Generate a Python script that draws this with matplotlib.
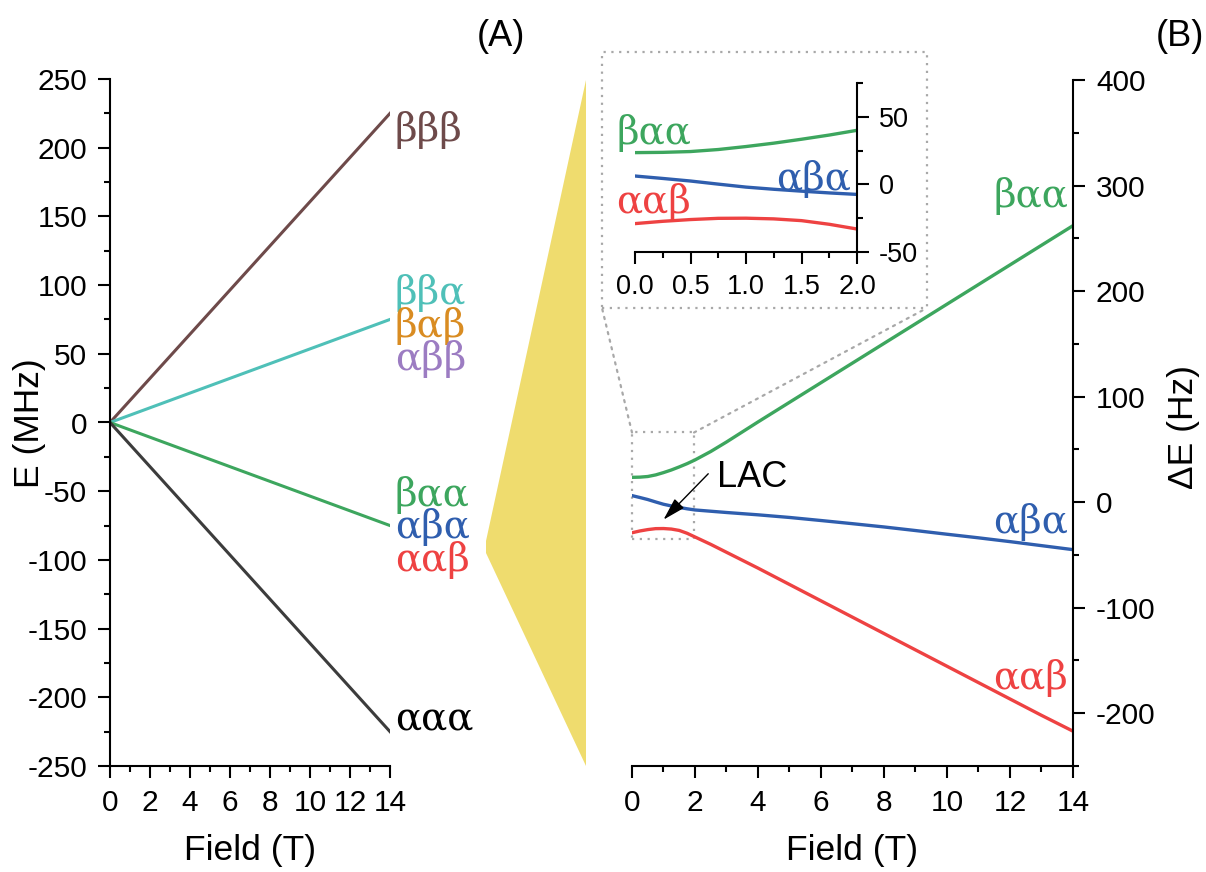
import matplotlib
matplotlib.use('Agg')
from matplotlib import pyplot as plt
from matplotlib.patches import Polygon, Rectangle, ConnectionPatch
from matplotlib.ticker import MultipleLocator, FormatStrFormatter

plt.rcParams['font.family'] = ['Liberation Sans', 'DejaVu Sans']
plt.rcParams['axes.unicode_minus'] = False

# (A) Zeeman levels, MHz
fieldA = [0, 14]
E_bbb = [0, 225]
E_bba = [0, 75]
E_baa = [0, -75]
E_aaa = [0, -225]
labelsA = ['βββ', 'ββα', 'βαβ', 'αββ', 'βαα', 'αβα', 'ααβ', 'ααα']

# (B) energy differences, Hz
fieldB = [0, 0.25, 0.5, 0.75, 1.0, 1.25, 1.5, 1.75, 2.0, 2.5,
          3, 4, 5, 6, 7, 8, 9, 10, 11, 12, 13, 14]
dE_baa = [23.5, 23.7, 24.3, 25.8, 28, 30.5, 33.4, 36.5, 40, 48,
          57, 76, 94.6, 113.2, 131.8, 150.4, 169, 187.6, 206.2, 224.8, 243.4, 262]
dE_aba = [6.2, 4.4, 2.5, 0.2, -2, -3.6, -5, -6.3, -7.4, -8.6,
          -9.8, -12, -14.5, -17.4, -20.4, -23.5, -26.9, -30.4, -33.8, -37.4, -41.2, -45]
dE_aab = [-29, -27.3, -26, -25.1, -25, -25.5, -26.8, -29.5, -33, -40,
          -47.5, -62.5, -78, -93.5, -109, -124.5, -140, -155.5, -171, -186.5, -202, -217]

brown = '#6E4A4A'
cyan = '#4FC0B8'
orange = '#D98C22'
purple = '#9C7CC2'
green = '#3DA65E'
blue = '#2F5EAE'
red = '#EE4242'
dark = '#3C3C3C'

W, H = 1206, 872
fig = plt.figure(figsize=(W / 100, H / 100), dpi=100)
greek = dict(fontsize=28, family='DejaVu Serif', va='center')

def fx(px):
    return px / W

def fy(py):
    return 1 - py / H

def style(ax, side, size=21.5, pad=8):
    for s in ['top', 'right', 'left', 'bottom']:
        ax.spines[s].set_linewidth(1.5)
    ax.spines['top'].set_visible(False)
    ax.spines['right' if side == 'left' else 'left'].set_visible(False)
    ax.tick_params(which='both', direction='out', width=1.5, labelsize=size, pad=pad)
    ax.tick_params(which='major', length=8.5)
    ax.tick_params(which='minor', length=4.3)
    if side == 'right':
        ax.yaxis.tick_right()

# yellow wedge
fig.add_artist(Polygon([(fx(586), fy(80)), (fx(486), fy(541)), (fx(486), fy(553)),
                        (fx(586), fy(766))], closed=True, transform=fig.transFigure,
                       facecolor='#EFDC6E', edgecolor='none', zorder=0))

# ---- panel A
axA = fig.add_axes([fx(110), fy(766), fx(280), (766 - 79) / H])
style(axA, 'left')
axA.plot(fieldA, E_bbb, color=brown, lw=2.2)
axA.plot(fieldA, E_bba, color=cyan, lw=2.2)
axA.plot(fieldA, E_baa, color=green, lw=2.2)
axA.plot(fieldA, E_aaa, color=dark, lw=2.2)
axA.set_xlim(0, 14)
axA.set_ylim(-250, 250)
axA.xaxis.set_major_locator(MultipleLocator(2))
axA.xaxis.set_minor_locator(MultipleLocator(1))
axA.yaxis.set_major_locator(MultipleLocator(50))
axA.yaxis.set_minor_locator(MultipleLocator(25))
axA.set_xlabel('Field (T)', fontsize=25.5, labelpad=12)
labA_y = [213, 94, 70, 46, -53, -76, -100, -216]
labA_c = [brown, cyan, orange, purple, green, blue, red, 'black']
for lab, y, c in zip(labelsA, labA_y, labA_c):
    axA.text(14.25, y, lab, color=c, ha='left', clip_on=False, **greek)
fig.text(fx(29), fy(423), 'E (MHz)', rotation=90, fontsize=25.5, ha='center', va='center')
fig.text(fx(501), fy(36), '(A)', fontsize=26, ha='center', va='center')

# ---- panel B
axB = fig.add_axes([fx(632), fy(766), fx(441), (766 - 80) / H])
style(axB, 'right')
axB.plot(fieldB, dE_baa, color=green, lw=2.4)
axB.plot(fieldB, dE_aba, color=blue, lw=2.4)
axB.plot(fieldB, dE_aab, color=red, lw=2.4)
axB.set_xlim(0, 14)
axB.set_ylim(-250, 400)
axB.xaxis.set_major_locator(MultipleLocator(2))
axB.xaxis.set_minor_locator(MultipleLocator(1))
axB.yaxis.set_major_locator(MultipleLocator(100))
axB.yaxis.set_minor_locator(MultipleLocator(50))
axB.set_xlabel('Field (T)', fontsize=25.5, labelpad=12)
axB.text(13.85, 290, 'βαα', color=green, ha='right', **greek)
axB.text(13.85, -19, 'αβα', color=blue, ha='right', **greek)
axB.text(13.85, -167, 'ααβ', color=red, ha='right', **greek)
axB.annotate('', xy=(1.0, -16.6), xytext=(2.42, 26.9),
             arrowprops=dict(arrowstyle='-|>,head_length=1.4,head_width=0.4',
                             color='black', lw=1, mutation_scale=10, shrinkA=0, shrinkB=0))
axB.text(2.69, 23.7, 'LAC', fontsize=26, ha='left', va='center')
fig.text(fx(1183), fy(427), 'ΔE (Hz)', rotation=90, fontsize=25.5, ha='center', va='center')
fig.text(fx(1180), fy(36), '(B)', fontsize=26, ha='center', va='center')

dot = dict(color='#A8A8A8', lw=1.6, ls=(0, (1, 2.5)))
axB.add_patch(Rectangle((0, -35), 1.97, 101, fill=False, clip_on=False, **dot))
fig.add_artist(Rectangle((fx(602), fy(308)), fx(325), 256 / H, fill=False,
                         transform=fig.transFigure, **dot))
for xa, xb in [(0, 602), (1.97, 927)]:
    fig.add_artist(ConnectionPatch(xyA=(xa, 66), coordsA=axB.transData,
                                   xyB=(fx(xb), fy(308)), coordsB=fig.transFigure, **dot))

# ---- inset
axI = fig.add_axes([fx(635), fy(252), fx(222), (252 - 83) / H])
style(axI, 'right', size=19.5, pad=7)
axI.patch.set_alpha(0)
axI.plot(fieldB, dE_baa, color=green, lw=2.4)
axI.plot(fieldB, dE_aba, color=blue, lw=2.4)
axI.plot(fieldB, dE_aab, color=red, lw=2.4)
axI.set_xlim(0, 2)
axI.set_ylim(-50, 75)
axI.xaxis.set_major_locator(MultipleLocator(0.5))
axI.xaxis.set_minor_locator(MultipleLocator(0.25))
axI.xaxis.set_major_formatter(FormatStrFormatter('%.1f'))
axI.yaxis.set_major_locator(MultipleLocator(50))
axI.yaxis.set_minor_locator(MultipleLocator(25))
axI.text(-0.17, 38, 'βαα', color=green, ha='left', clip_on=False, **greek)
axI.text(1.95, 4, 'αβα', color=blue, ha='right', **greek)
axI.text(-0.17, -13, 'ααβ', color=red, ha='left', clip_on=False, **greek)

fig.savefig('out.png', dpi=100)
